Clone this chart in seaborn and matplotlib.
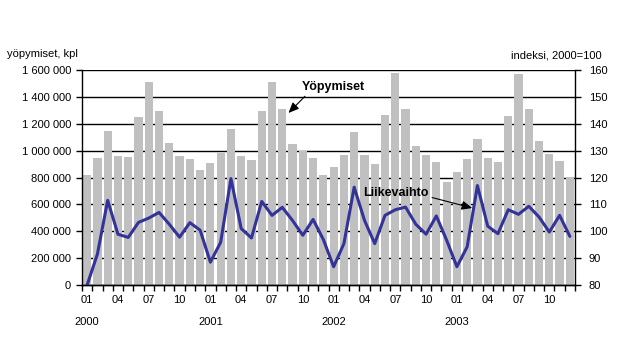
import pandas as pd
import seaborn as sns
import matplotlib.pyplot as plt
import matplotlib.transforms as mtransforms
from matplotlib.ticker import FuncFormatter, MultipleLocator, FixedLocator

# data
years = ["2000", "2001", "2002", "2003"]
month_labels = ["01", "04", "07", "10"]

yopymiset_2000 = [822, 948, 1148, 963, 955, 1252, 1511, 1296, 1059, 963, 941, 859]
yopymiset_2001 = [911, 985, 1163, 963, 933, 1296, 1511, 1311, 1052, 1000, 948, 815]
yopymiset_2002 = [881, 970, 1141, 970, 904, 1267, 1578, 1311, 1037, 970, 919, 770]
yopymiset_2003 = [844, 941, 1089, 948, 919, 1259, 1570, 1311, 1074, 978, 926, 807]

liikevaihto_2000 = [80.0, 91.5, 111.5, 98.9, 97.7, 103.3, 104.9, 107.0, 102.6, 97.8, 103.2, 100.4]
liikevaihto_2001 = [88.5, 95.9, 119.6, 101.0, 97.5, 111.1, 105.9, 108.9, 104.0, 98.5, 104.4, 96.9]
liikevaihto_2002 = [86.8, 95.4, 116.4, 104.1, 95.4, 105.9, 108.0, 109.0, 102.6, 98.9, 105.7, 96.7]
liikevaihto_2003 = [86.8, 94.2, 117.0, 101.9, 99.1, 108.0, 106.3, 109.3, 105.3, 99.7, 105.9, 98.1]

yopymiset = [v * 1000 for v in yopymiset_2000 + yopymiset_2001 + yopymiset_2002 + yopymiset_2003]
liikevaihto = liikevaihto_2000 + liikevaihto_2001 + liikevaihto_2002 + liikevaihto_2003

df = pd.DataFrame({"kk": range(len(yopymiset)), "yopymiset": yopymiset, "liikevaihto": liikevaihto})

sns.set_theme(style="white")
plt.rcParams["font.family"] = ["Liberation Sans", "DejaVu Sans"]
plt.rcParams["font.size"] = 8
plt.rcParams["text.color"] = "black"
plt.rcParams["xtick.color"] = "black"
plt.rcParams["ytick.color"] = "black"

fig = plt.figure(figsize=(6.32, 3.64), dpi=100)
ax = fig.add_axes([82 / 632, 1 - 285 / 364, (575 - 82) / 632, (285 - 70) / 364])

# bars: overnight stays
sns.barplot(data=df, x="kk", y="yopymiset", color="#c0c0c0", saturation=1,
            width=0.8, linewidth=0, ax=ax)
ax.set_ylim(0, 1600000)
ax.yaxis.set_major_locator(MultipleLocator(200000))
ax.yaxis.set_major_formatter(FuncFormatter(lambda v, p: f"{v:,.0f}".replace(",", " ")))
ax.yaxis.grid(True, color="black", linewidth=1)
ax.set_axisbelow(True)

# line: turnover index on the right axis
ax2 = ax.twinx()
sns.lineplot(data=df, x="kk", y="liikevaihto", color="#333399", linewidth=2.2, ax=ax2)
ax2.set_ylim(80, 160)
ax2.yaxis.set_major_locator(MultipleLocator(10))

n = len(df)
ax.set_xlim(-0.5, n - 0.5)
ax2.set_xlim(-0.5, n - 0.5)

for a in (ax, ax2):
    a.set_xlabel("")
    a.set_ylabel("")
    a.spines["top"].set_visible(False)
    for s in ("left", "right", "bottom"):
        a.spines[s].set_color("black")
        a.spines[s].set_linewidth(1)

ax.spines["right"].set_visible(False)
ax2.spines["left"].set_visible(False)

# x axis: ticks at month boundaries, labels every quarter
label_pos = [i for i in range(n) if i % 3 == 0]
ax.xaxis.set_major_locator(FixedLocator(label_pos))
ax.set_xticklabels([month_labels[(i % 12) // 3] for i in label_pos])
ax.xaxis.set_minor_locator(FixedLocator([i - 0.5 for i in range(n + 1)]))
ax.tick_params(axis="x", which="major", length=0, pad=7, labelsize=8)
ax.tick_params(axis="x", which="minor", bottom=True, length=4, width=1, color="black", direction="out")
ax.tick_params(axis="y", left=True, length=4, width=1, color="black", pad=4, labelsize=8)
ax2.tick_params(axis="y", right=True, length=4, width=1, color="black", pad=6, labelsize=8)

trans = mtransforms.blended_transform_factory(ax.transData, ax.transAxes)
for k, yr in enumerate(years):
    ax.text(k * 12, -0.172, yr, transform=trans, ha="center", va="center", fontsize=8)

fig.text(7 / 632, 1 - 54 / 364, "yöpymiset, kpl", ha="left", va="center", fontsize=8)
fig.text(602 / 632, 1 - 55 / 364, "indeksi, 2000=100", ha="right", va="center", fontsize=8)

arrow = dict(arrowstyle="-|>,head_length=0.7,head_width=0.3", color="black", lw=0.8,
             shrinkA=0, shrinkB=0)
ax2.annotate("Yöpymiset", xy=(19.6, 80 + 1280000 / 20000), xytext=(20.9, 80 + 1473000 / 20000),
             ha="left", va="center", fontsize=9, fontweight="bold", color="black",
             arrowprops=dict(arrow, relpos=(0.1, 0.0)))
ax2.annotate("Liikevaihto", xy=(37.5, 80 + 573000 / 20000), xytext=(26.9, 80 + 684000 / 20000),
             ha="left", va="center", fontsize=9, fontweight="bold", color="black",
             arrowprops=dict(arrow, relpos=(1.0, 0.2)))

fig.savefig("out.png", dpi=100, facecolor="white")
